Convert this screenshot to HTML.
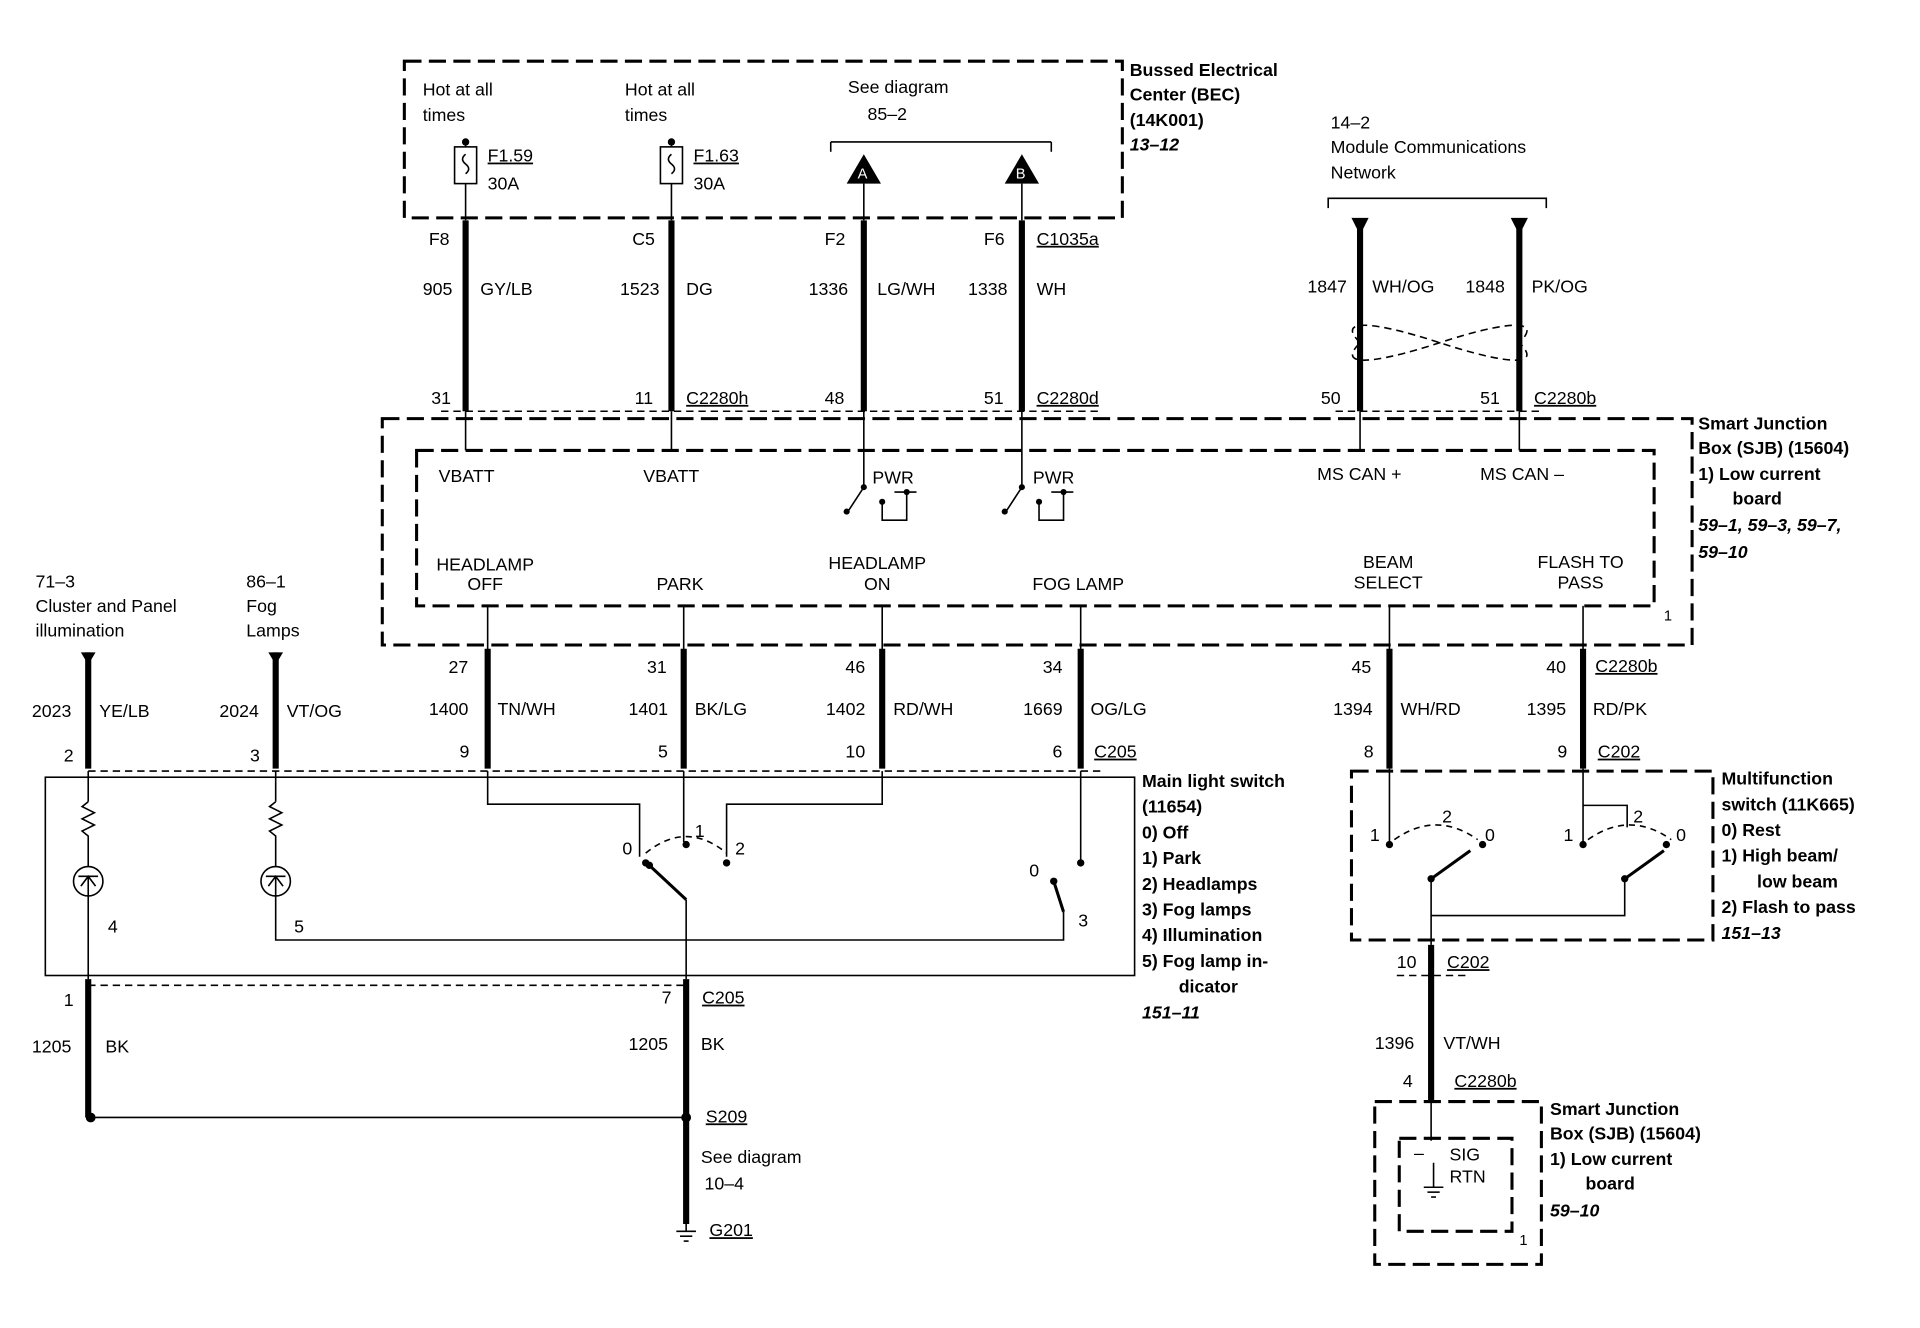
<!DOCTYPE html>
<html><head><meta charset="utf-8"><style>
html,body{margin:0;padding:0;background:#fff;}
svg{display:block;}
text{font-family:"Liberation Sans",sans-serif;font-size:14.5px;fill:#000;}
.b{font-weight:bold;}
.i{font-weight:bold;font-style:italic;}
.w{stroke:#000;stroke-width:5;}
.t{stroke:#000;stroke-width:1.3;fill:none;}
.d{stroke:#000;stroke-width:2.5;fill:none;stroke-dasharray:14,6;}
.dt{stroke:#000;stroke-width:1.3;fill:none;stroke-dasharray:6,4;}
.u{text-decoration:underline;}
</style></head><body>
<svg width="1920" height="1328" viewBox="0 0 1567 1085" preserveAspectRatio="none" xmlns="http://www.w3.org/2000/svg">
<rect width="1600" height="1100" fill="#fff"/>
<rect x="330" y="50" width="586" height="128" class="d"/>
<text x="922" y="62" class="b">Bussed Electrical</text>
<text x="922" y="82" class="b">Center (BEC)</text>
<text x="922" y="103" class="b">(14K001)</text>
<text x="922" y="123" class="i">13–12</text>
<text x="345" y="78">Hot at all</text><text x="345" y="99">times</text>
<text x="510" y="78">Hot at all</text><text x="510" y="99">times</text>
<text x="692" y="76">See diagram</text><text x="708" y="98">85–2</text>
<line x1="678" y1="116" x2="858" y2="116" class="t" stroke-width="2.5"/>
<line x1="678" y1="116" x2="678" y2="124" class="t" stroke-width="2.5"/>
<line x1="858" y1="116" x2="858" y2="124" class="t" stroke-width="2.5"/>
<polygon points="705,126 691,150 719,150" fill="#000"/><text x="700" y="146" style="fill:#fff;font-size:12px">A</text>
<polygon points="834,126 820,150 848,150" fill="#000"/><text x="829" y="146" style="fill:#fff;font-size:12px">B</text>
<g><circle cx="380" cy="116" r="3"/><rect x="371" y="120" width="18" height="30" class="t"/><path d="M380 126 q-5 4 0 8 q5 4 0 8" class="t"/><line x1="380" y1="116" x2="380" y2="120" class="t"/></g>
<g><circle cx="548" cy="116" r="3"/><rect x="539" y="120" width="18" height="30" class="t"/><path d="M548 126 q-5 4 0 8 q5 4 0 8" class="t"/><line x1="548" y1="116" x2="548" y2="120" class="t"/></g>
<text x="398" y="132" class="u">F1.59</text><text x="398" y="155">30A</text>
<text x="566" y="132" class="u">F1.63</text><text x="566" y="155">30A</text>
<line x1="380" y1="150" x2="380" y2="180" class="t"/><line x1="548" y1="150" x2="548" y2="180" class="t"/>
<line x1="705" y1="150" x2="705" y2="180" class="t"/><line x1="834" y1="150" x2="834" y2="180" class="t"/>
<line x1="380" y1="180" x2="380" y2="336" class="w"/><line x1="548" y1="180" x2="548" y2="336" class="w"/>
<line x1="705" y1="180" x2="705" y2="336" class="w"/><line x1="834" y1="180" x2="834" y2="336" class="w"/>
<text x="350" y="200">F8</text><text x="516" y="200">C5</text><text x="673" y="200">F2</text><text x="803" y="200">F6</text><text x="846" y="200" class="u">C1035a</text>
<text x="345" y="241">905</text><text x="392" y="241">GY/LB</text><text x="506" y="241">1523</text><text x="560" y="241">DG</text>
<text x="660" y="241">1336</text><text x="716" y="241">LG/WH</text><text x="790" y="241">1338</text><text x="846" y="241">WH</text>
<text x="352" y="330">31</text><text x="518" y="330">11</text><text x="560" y="330" class="u">C2280h</text>
<text x="673" y="330">48</text><text x="803" y="330">51</text><text x="846" y="330" class="u">C2280d</text>
<line x1="360" y1="336" x2="900" y2="336" class="dt"/>
<text x="1086" y="105">14–2</text><text x="1086" y="125">Module Communications</text><text x="1086" y="146">Network</text>
<path d="M1084 170 V162 H1262 V170" class="t" stroke-width="2.5"/>
<polygon points="1103,178 1117,178 1110,192" fill="#000"/><polygon points="1233,178 1247,178 1240,192" fill="#000"/>
<line x1="1110" y1="185" x2="1110" y2="336" class="w"/><line x1="1240" y1="185" x2="1240" y2="336" class="w"/>
<path d="M1110 280 C1090 260 1120 262 1175 280 C1230 298 1260 300 1240 280 C1260 260 1230 262 1175 280 C1120 298 1090 300 1110 280" class="dt"/>
<text x="1067" y="239">1847</text><text x="1120" y="239">WH/OG</text><text x="1196" y="239">1848</text><text x="1250" y="239">PK/OG</text>
<text x="1078" y="330">50</text><text x="1208" y="330">51</text><text x="1252" y="330" class="u">C2280b</text>
<line x1="1090" y1="336" x2="1260" y2="336" class="dt"/>
<rect x="312" y="342" width="1069" height="185" class="d"/>
<rect x="340" y="368" width="1010" height="127" class="d"/>
<g class="t"><line x1="380" y1="336" x2="380" y2="368"/><line x1="548" y1="336" x2="548" y2="368"/><line x1="705" y1="336" x2="705" y2="368"/><line x1="834" y1="336" x2="834" y2="368"/><line x1="1110" y1="336" x2="1110" y2="368"/><line x1="1240" y1="336" x2="1240" y2="368"/></g>
<text x="358" y="394">VBATT</text><text x="525" y="394">VBATT</text><text x="712" y="395">PWR</text><text x="843" y="395">PWR</text>
<text x="1075" y="392">MS CAN +</text><text x="1208" y="392">MS CAN –</text>
<g class="t" stroke-width="2">
<line x1="705" y1="368" x2="705" y2="398"/><line x1="705" y1="398" x2="692" y2="418"/>
<path d="M730 402 H748 M740 402 V425 H720 V410"/>
<line x1="834" y1="368" x2="834" y2="398"/><line x1="834" y1="398" x2="821" y2="418"/>
<path d="M858 402 H876 M868 402 V425 H848 V410"/>
</g>
<g><circle cx="705" cy="398" r="2.5"/><circle cx="691" cy="418" r="2.5"/><circle cx="740" cy="402" r="2.5"/><circle cx="720" cy="410" r="2.5"/>
<circle cx="834" cy="398" r="2.5"/><circle cx="820" cy="418" r="2.5"/><circle cx="868" cy="402" r="2.5"/><circle cx="848" cy="410" r="2.5"/></g>
<g text-anchor="middle">
<text x="396" y="466">HEADLAMP</text><text x="396" y="482">OFF</text>
<text x="555" y="482">PARK</text>
<text x="716" y="465">HEADLAMP</text><text x="716" y="482">ON</text>
<text x="880" y="482">FOG LAMP</text>
<text x="1133" y="464">BEAM</text><text x="1133" y="481">SELECT</text>
<text x="1290" y="464">FLASH TO</text><text x="1290" y="481">PASS</text>
</g>
<text x="1358" y="507" style="font-size:12px">1</text>
<text x="1386" y="351" class="b">Smart Junction</text><text x="1386" y="371" class="b">Box (SJB) (15604)</text>
<text x="1386" y="392" class="b">1)   Low current</text><text x="1414" y="412" class="b">board</text>
<text x="1386" y="434" class="i">59–1, 59–3, 59–7,</text><text x="1386" y="456" class="i">59–10</text>
<g class="t"><line x1="398" y1="495" x2="398" y2="532"/><line x1="558" y1="495" x2="558" y2="532"/><line x1="720" y1="495" x2="720" y2="532"/><line x1="882" y1="495" x2="882" y2="532"/><line x1="1134" y1="495" x2="1134" y2="532"/><line x1="1292" y1="495" x2="1292" y2="532"/></g>
<g class="w"><line x1="398" y1="530" x2="398" y2="628"/><line x1="558" y1="530" x2="558" y2="628"/><line x1="720" y1="530" x2="720" y2="628"/><line x1="882" y1="530" x2="882" y2="628"/><line x1="1134" y1="530" x2="1134" y2="628"/><line x1="1292" y1="530" x2="1292" y2="628"/>
<line x1="72" y1="533" x2="72" y2="628"/><line x1="225" y1="533" x2="225" y2="628"/></g>
<polygon points="66,533 78,533 72,543" fill="#000"/><polygon points="219,533 231,533 225,543" fill="#000"/>
<text x="366" y="550">27</text><text x="528" y="550">31</text><text x="690" y="550">46</text><text x="851" y="550">34</text><text x="1103" y="550">45</text><text x="1262" y="550">40</text><text x="1302" y="549" class="u">C2280b</text>
<text x="350" y="584">1400</text><text x="406" y="584">TN/WH</text><text x="513" y="584">1401</text><text x="567" y="584">BK/LG</text>
<text x="674" y="584">1402</text><text x="729" y="584">RD/WH</text><text x="835" y="584">1669</text><text x="890" y="584">OG/LG</text>
<text x="1088" y="584">1394</text><text x="1143" y="584">WH/RD</text><text x="1246" y="584">1395</text><text x="1300" y="584">RD/PK</text>
<text x="375" y="619">9</text><text x="537" y="619">5</text><text x="690" y="619">10</text><text x="859" y="619">6</text><text x="893" y="619" class="u">C205</text>
<text x="1113" y="619">8</text><text x="1271" y="619">9</text><text x="1304" y="619" class="u">C202</text>
<text x="29" y="480">71–3</text><text x="29" y="500">Cluster and Panel</text><text x="29" y="520">illumination</text>
<text x="201" y="480">86–1</text><text x="201" y="500">Fog</text><text x="201" y="520">Lamps</text>
<text x="26" y="586">2023</text><text x="81" y="586">YE/LB</text><text x="179" y="586">2024</text><text x="234" y="586">VT/OG</text>
<text x="52" y="622">2</text><text x="204" y="622">3</text>
<line x1="72" y1="630" x2="900" y2="630" class="dt"/>
<rect x="37" y="635" width="889" height="162" class="t" stroke-width="2.5"/>
<text x="932" y="643" class="b">Main light switch</text><text x="932" y="664" class="b">(11654)</text>
<text x="932" y="685" class="b">0)   Off</text><text x="932" y="706" class="b">1)   Park</text><text x="932" y="727" class="b">2)   Headlamps</text>
<text x="932" y="748" class="b">3)   Fog lamps</text><text x="932" y="769" class="b">4)   Illumination</text><text x="932" y="790" class="b">5)   Fog lamp in-</text>
<text x="962" y="811" class="b">dicator</text><text x="932" y="832" class="i">151–11</text>
<g class="t">
<line x1="72" y1="630" x2="72" y2="655"/><path d="M72 655 l-5 4 l10 5 l-10 5 l10 5 l-10 5 l5 4 V708"/>
<circle cx="72" cy="720" r="12"/><path d="M64 716 H80 M72 716 V732 M66 724 l6 -8 l6 8"/><line x1="72" y1="732" x2="72" y2="800"/>
<line x1="225" y1="630" x2="225" y2="655"/><path d="M225 655 l-5 4 l10 5 l-10 5 l10 5 l-10 5 l5 4 V708"/>
<circle cx="225" cy="720" r="12"/><path d="M217 716 H233 M225 716 V732 M219 724 l6 -8 l6 8"/><path d="M225 732 V768 H868 V745"/>
<path d="M398 630 V657 H522 V700"/><line x1="558" y1="630" x2="558" y2="688"/><path d="M720 630 V657 H593 V700"/>
<path d="M527 697 Q560 670 593 697" stroke-dasharray="5,4"/>
<line x1="560" y1="735" x2="530" y2="707" stroke-width="2.5"/><line x1="560" y1="735" x2="560" y2="800"/>
<line x1="882" y1="630" x2="882" y2="703"/><line x1="868" y1="745" x2="860" y2="720" stroke-width="2.5"/>
</g>
<g><circle cx="527" cy="705" r="3"/><circle cx="560" cy="690" r="3"/><circle cx="593" cy="705" r="3"/><circle cx="530" cy="707" r="3"/><circle cx="882" cy="705" r="3"/><circle cx="860" cy="720" r="3"/></g>
<text x="508" y="698">0</text><text x="567" y="684">1</text><text x="600" y="698">2</text><text x="840" y="716">0</text><text x="880" y="757">3</text>
<text x="88" y="762">4</text><text x="240" y="762">5</text>
<line x1="72" y1="805" x2="560" y2="805" class="dt"/>
<line x1="72" y1="800" x2="72" y2="913" class="w"/><line x1="560" y1="800" x2="560" y2="1000" class="w"/>
<text x="52" y="822">1</text><text x="540" y="820">7</text><text x="573" y="820" class="u">C205</text>
<text x="26" y="860">1205</text><text x="86" y="860">BK</text><text x="513" y="858">1205</text><text x="572" y="858">BK</text>
<circle cx="74" cy="913" r="4"/><circle cx="560" cy="913" r="4"/><line x1="74" y1="913" x2="560" y2="913" class="t"/>
<text x="576" y="917" class="u">S209</text><text x="572" y="950">See diagram</text><text x="575" y="972">10–4</text>
<g class="t" stroke-width="2"><line x1="560" y1="1000" x2="560" y2="1006"/><line x1="552" y1="1006" x2="568" y2="1006"/><line x1="555" y1="1010" x2="565" y2="1010"/><line x1="558" y1="1014" x2="562" y2="1014"/></g>
<text x="579" y="1010" class="u">G201</text>
<rect x="1103" y="630" width="295" height="138" class="d"/>
<text x="1405" y="641" class="b">Multifunction</text><text x="1405" y="662" class="b">switch (11K665)</text>
<text x="1405" y="683" class="b">0)   Rest</text><text x="1405" y="704" class="b">1)   High beam/</text><text x="1434" y="725" class="b">low beam</text>
<text x="1405" y="746" class="b">2)   Flash to pass</text><text x="1405" y="767" class="i">151–13</text>
<g class="t">
<line x1="1134" y1="628" x2="1134" y2="690"/><path d="M1138 686 Q1172 662 1206 686" stroke-dasharray="5,4"/>
<line x1="1168" y1="718" x2="1200" y2="695" stroke-width="2.5"/><line x1="1168" y1="718" x2="1168" y2="772"/>
<path d="M1292 628 V690 M1292 658 H1328 V676"/><path d="M1296 686 Q1330 662 1364 686" stroke-dasharray="5,4"/>
<line x1="1326" y1="718" x2="1358" y2="695" stroke-width="2.5"/><path d="M1168 748 H1326 V718"/>
</g>
<g><circle cx="1134" cy="690" r="3"/><circle cx="1210" cy="690" r="3"/><circle cx="1168" cy="718" r="3"/><circle cx="1292" cy="690" r="3"/><circle cx="1360" cy="690" r="3"/><circle cx="1326" cy="718" r="3"/></g>
<text x="1118" y="687">1</text><text x="1177" y="672">2</text><text x="1212" y="687">0</text>
<text x="1276" y="687">1</text><text x="1333" y="672">2</text><text x="1368" y="687">0</text>
<line x1="1168" y1="772" x2="1168" y2="900" class="w"/>
<line x1="1140" y1="797" x2="1200" y2="797" class="dt"/>
<text x="1140" y="791">10</text><text x="1181" y="791" class="u">C202</text>
<text x="1122" y="857">1396</text><text x="1178" y="857">VT/WH</text><text x="1145" y="888">4</text><text x="1187" y="888" class="u">C2280b</text>
<rect x="1122" y="900" width="136" height="133" class="d"/>
<rect x="1142" y="930" width="92" height="76" class="d"/>
<line x1="1168" y1="900" x2="1168" y2="932" class="t"/>
<text x="1154" y="947">–</text><text x="1183" y="948">SIG</text><text x="1183" y="966">RTN</text>
<g class="t" stroke-width="2"><line x1="1170" y1="950" x2="1170" y2="970"/><line x1="1162" y1="970" x2="1178" y2="970"/><line x1="1165" y1="974" x2="1175" y2="974"/><line x1="1168" y1="978" x2="1172" y2="978"/></g>
<text x="1240" y="1017" style="font-size:12px">1</text>
<text x="1265" y="911" class="b">Smart Junction</text><text x="1265" y="931" class="b">Box (SJB) (15604)</text>
<text x="1265" y="952" class="b">1)   Low current</text><text x="1294" y="972" class="b">board</text><text x="1265" y="994" class="i">59–10</text>
</svg>
</body></html>
